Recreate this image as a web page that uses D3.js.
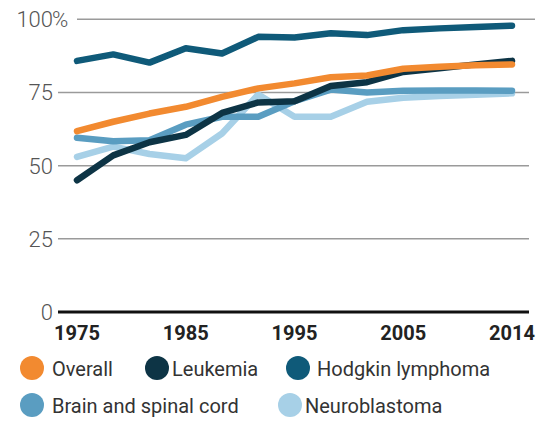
<!DOCTYPE html>
<html>
<head>
<meta charset="utf-8">
<script src="https://cdn.jsdelivr.net/npm/d3@7"></script>
<style>
  html, body { margin: 0; padding: 0; background: #fff; }
  svg { display: block; }
</style>
</head>
<body>
<svg id="chart" width="551" height="423"></svg>
<script>
const years = ["1975","1978","1982","1985","1988","1992","1995","1998","2002","2005","2008","2011","2014"];
const tickYears = ["1975","1985","1995","2005","2014"];
const yTicks = [0, 25, 50, 75, 100];

const overall   = [61.8, 65.0, 67.8, 70.1, 73.5, 76.4, 78.1, 80.2, 80.8, 83.1, 83.8, 84.3, 84.6];
const leukemia  = [45.0, 53.5, 58.0, 60.5, 68.0, 71.6, 72.0, 77.2, 78.5, 82.0, 83.3, 84.6, 85.8];
const hodgkin   = [85.8, 88.0, 85.2, 90.1, 88.3, 94.0, 93.8, 95.2, 94.6, 96.3, 96.9, 97.4, 97.8];
const brain     = [59.5, 58.3, 58.7, 64.0, 66.7, 66.7, 72.0, 76.0, 75.0, 75.6, 75.7, 75.7, 75.6];
const neuro     = [53.0, 56.5, 54.0, 52.5, 61.0, 74.3, 66.7, 66.7, 71.8, 73.2, 73.8, 74.2, 74.7];

const seriesNames  = ["Overall", "Leukemia", "Hodgkin lymphoma", "Brain and spinal cord", "Neuroblastoma"];
const seriesValues = [overall, leukemia, hodgkin, brain, neuro];
const seriesColors = ["#f28a30", "#0d3445", "#0f5a79", "#5a9dc1", "#a7d0e7"];

const svg = d3.select("#chart");
const x = d3.scalePoint().domain(years).range([77, 512]);
const y = d3.scaleLinear().domain([0, 100]).range([312, 19.3]);

const font = "Roboto, 'Liberation Sans', sans-serif";

// gridlines
const grid = svg.append("g");
grid.selectAll("line.g").data(yTicks.filter(d => d > 0)).join("line")
  .attr("x1", d => d === 100 ? 77 : 58)
  .attr("x2", d => d === 100 ? 535 : 529)
  .attr("y1", d => y(d)).attr("y2", d => y(d))
  .attr("stroke", "#9a9a9a").attr("stroke-width", 1.5);

// y labels
const yl = svg.append("g");
yl.selectAll("text").data(yTicks).join("text")
  .attr("x", 53).attr("y", d => y(d) + 8)
  .attr("text-anchor", "end")
  .attr("font-family", font).attr("font-weight", 300)
  .attr("font-size", 22).attr("fill", "#555")
  .text(d => d);
yl.append("text")
  .attr("x", 52).attr("y", y(100) + 8)
  .attr("font-family", font).attr("font-weight", 300)
  .attr("font-size", 22).attr("fill", "#555")
  .text("%");

// lines
const line = d3.line().x((d, i) => x(years[i])).y(d => y(d));
const drawOrder = [4, 3, 1, 0, 2];
svg.append("g").selectAll("path").data(drawOrder).join("path")
  .attr("d", k => line(seriesValues[k]))
  .attr("fill", "none")
  .attr("stroke", k => seriesColors[k])
  .attr("stroke-width", 6.5)
  .attr("stroke-linecap", "round")
  .attr("stroke-linejoin", "round");

// zero axis
svg.append("line")
  .attr("x1", 58).attr("x2", 529)
  .attr("y1", y(0)).attr("y2", y(0))
  .attr("stroke", "#111").attr("stroke-width", 3);

// x labels
svg.append("g").selectAll("text").data(tickYears).join("text")
  .attr("x", d => x(d)).attr("y", 340)
  .attr("text-anchor", "middle")
  .attr("font-family", font).attr("font-weight", 700)
  .attr("font-size", 20).attr("fill", "#222")
  .text(d => d);

// legend
const legendPos = [
  {cx: 32, tx: 52, cy: 368},
  {cx: 157, tx: 172, cy: 368},
  {cx: 298, tx: 317, cy: 368},
  {cx: 32, tx: 52, cy: 405},
  {cx: 290, tx: 305, cy: 405}
];
const lg = svg.append("g").selectAll("g").data(seriesNames).join("g");
lg.append("circle")
  .attr("cx", (d, i) => legendPos[i].cx).attr("cy", (d, i) => legendPos[i].cy)
  .attr("r", 12).attr("fill", (d, i) => seriesColors[i]);
lg.append("text")
  .attr("x", (d, i) => legendPos[i].tx).attr("y", (d, i) => legendPos[i].cy + 7.5)
  .attr("font-family", font).attr("font-size", 20).attr("fill", "#333")
  .text(d => d);
</script>
</body>
</html>
